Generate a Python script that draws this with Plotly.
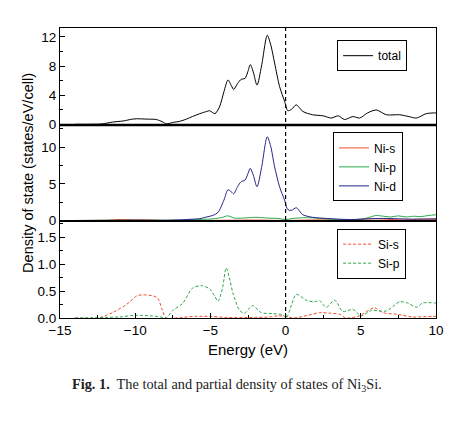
import plotly.graph_objects as go
from plotly.subplots import make_subplots

# ---- data ----
E_tot = [-14, -13, -12.2, -11.5, -10.8, -10.2, -9.9, -9.2, -8.6, -8.2, -7.9, -7.5, -7.05, -6.6, -6.2,
         -5.7, -5.25, -5.05, -4.7, -4.4, -4.1, -3.83, -3.6, -3.45, -3.2, -2.95, -2.7, -2.5, -2.35,
         -2.15, -1.9, -1.6, -1.22, -1.0, -0.73, -0.4, -0.07, 0.15, 0.4, 0.71, 1.15, 1.8, 2.5, 3.04,
         3.5, 3.92, 4.47, 4.92, 5.45, 6.03, 6.7, 7.58, 8.2, 8.69, 9.35, 9.9, 10]
total = [0.05, 0.05, 0.1, 0.35, 0.5, 0.75, 0.8, 0.75, 0.7, 0.4, 0.1, 0.3, 0.45, 0.75, 1.1,
         1.5, 1.8, 1.9, 1.5, 2.4, 4.5, 6.1, 5.3, 4.8, 5.6, 6.2, 6.3, 7.3, 8.2,
         7.2, 5.4, 8.0, 12.2, 11.0, 8.4, 5.2, 3.2, 1.9, 2.1, 2.7, 1.8, 1.35, 1.2, 0.9,
         1.2, 0.7, 1.1, 0.9, 1.6, 2.0, 1.35, 1.35, 1.1, 0.9, 1.5, 1.6, 1.6]

E_nid = [-14, -12, -10, -8, -7, -6.2, -5.7, -5.25, -4.85, -4.5, -4.1, -3.83, -3.6, -3.45, -3.2,
         -2.95, -2.7, -2.5, -2.35, -2.15, -1.9, -1.6, -1.22, -1.0, -0.73, -0.4, -0.07, 0.15, 0.4,
         0.71, 1.15, 1.8, 2.7, 3.5, 4.5, 5.5, 6.5, 7.5, 8.5, 10]
ni_d = [0.02, 0.03, 0.05, 0.05, 0.1, 0.2, 0.27, 0.5, 0.7, 1.1, 2.8, 4.2, 3.9, 3.65, 4.6,
        5.3, 5.5, 6.4, 7.1, 6.2, 4.6, 7.2, 11.4, 10.2, 7.3, 4.6, 2.8, 1.5, 1.4,
        1.75, 0.8, 0.45, 0.3, 0.2, 0.15, 0.25, 0.3, 0.25, 0.2, 0.25]

E_nip = [-14, -12, -10, -8, -6, -4.8, -4.2, -3.85, -3.4, -2.8, -2, -1.2, -0.5, 0, 0.5, 1.2, 2,
         3, 4, 5, 5.5, 6, 6.5, 7, 7.5, 8, 8.5, 9, 9.5, 10]
ni_p = [0.02, 0.05, 0.05, 0.05, 0.15, 0.25, 0.45, 0.65, 0.35, 0.35, 0.45, 0.35, 0.3, 0.15, 0.3,
        0.4, 0.35, 0.2, 0.15, 0.2, 0.4, 0.7, 0.6, 0.5, 0.65, 0.5, 0.6, 0.55, 0.7, 0.8]

E_nis = [-14, -12, -11, -10, -9, -8, -6, -4, -2, 0, 2, 4, 6, 7, 8, 9, 10]
ni_s = [0.01, 0.05, 0.15, 0.12, 0.1, 0.02, 0.02, 0.05, 0.08, 0.03, 0.1, 0.1, 0.25, 0.15, 0.1, 0.2, 0.15]

E_sis = [-14, -12.5, -12.2, -11.5, -10.8, -10.4, -9.9, -9.5, -8.8, -8.5, -8.2, -7.95, -7, -6, -5,
         -4, -2, -1, -0.5, 0, 0.5, 1.5, 2.26, 2.9, 3.6, 4.0, 4.9, 5.9, 6.45, 7.36, 8.45, 9.8, 10]
si_s = [0, 0, 0.02, 0.1, 0.21, 0.29, 0.41, 0.43, 0.41, 0.37, 0.15, 0.0, 0.01, 0.03, 0.03,
        0.01, 0.01, 0.02, 0.04, 0.03, 0.0, 0.05, 0.1, 0.09, 0.07, 0.0, 0.04, 0.19, 0.1, 0.07, 0.02, 0.03, 0.03]

E_sip = [-14, -12, -11, -10, -9, -8.3, -7.95, -7.5, -6.85, -6.2, -5.6, -5.05, -4.7, -4.5, -4.2,
         -3.95, -3.7, -3.5, -3.05, -2.73, -2.2, -1.62, -0.86, -0.2, 0.04, 0.4, 0.71, 1.37, 1.9,
         2.26, 2.7, 3.26, 3.81, 4.47, 5.03, 5.7, 6.7, 7.58, 8.1, 8.69, 9.13, 9.9, 10]
si_p = [0, 0.01, 0.02, 0.05, 0.04, 0.02, 0.0, 0.14, 0.27, 0.55, 0.6, 0.54, 0.4, 0.31, 0.55,
        0.93, 0.7, 0.46, 0.14, 0.09, 0.23, 0.1, 0.08, 0.06, 0.0, 0.25, 0.44, 0.33, 0.3,
        0.32, 0.2, 0.33, 0.12, 0.16, 0.04, 0.14, 0.13, 0.3, 0.28, 0.2, 0.28, 0.28, 0.28]

x_ticks = [-15, -10, -5, 0, 5, 10]

FONT = "Liberation Sans, Arial, sans-serif"
RED = "#f2502a"
GREEN = "#2aa84a"
NAVY = "#25258a"

fig = make_subplots(rows=3, cols=1, shared_xaxes=True, vertical_spacing=0,
                    row_heights=[97, 96, 97])

def line(x, y, name, color, row, legend, dash="solid"):
    fig.add_trace(go.Scatter(x=x, y=y, name=name, mode="lines",
                             line=dict(color=color, width=1, dash=dash, shape="spline", smoothing=0.8),
                             legend=legend), row=row, col=1)

line(E_tot, total, "total", "black", 1, "legend")
line(E_nis, ni_s, "Ni-s", RED, 2, "legend2")
line(E_nip, ni_p, "Ni-p", GREEN, 2, "legend2")
line(E_nid, ni_d, "Ni-d", NAVY, 2, "legend2")
line(E_sis, si_s, "Si-s", RED, 3, "legend3", dash="3px,2px")
line(E_sip, si_p, "Si-p", GREEN, 3, "legend3", dash="3px,2px")

axis_common = dict(showline=True, linecolor="black", linewidth=1, mirror=True,
                   showgrid=False, zeroline=False, ticks="inside", ticklen=5,
                   tickcolor="black", tickfont=dict(family=FONT, size=13.5, color="black"))

for r in (1, 2, 3):
    fig.update_xaxes(range=[-15, 10], tickvals=x_ticks, row=r, col=1,
                     minor=dict(ticks="inside", ticklen=3, dtick=2.5, tickcolor="black"),
                     **axis_common)
fig.update_xaxes(showticklabels=False, ticks="", minor=dict(ticks=""), row=1, col=1)
fig.update_xaxes(showticklabels=False, ticks="", minor=dict(ticks=""), row=2, col=1)
fig.update_xaxes(title=dict(text="Energy (eV)", font=dict(family=FONT, size=15, color="black"),
                            standoff=7), row=3, col=1)

fig.update_yaxes(range=[-0.05, 13.2], tickvals=[0, 4, 8, 12],
                 minor=dict(ticks="inside", ticklen=3, tickvals=[2, 6, 10], tickcolor="black"),
                 row=1, col=1, **axis_common)
fig.update_yaxes(range=[-0.05, 13.0], tickvals=[0, 5, 10],
                 minor=dict(ticks="inside", ticklen=3, tickvals=[2.5, 7.5, 12.5], tickcolor="black"),
                 row=2, col=1, **axis_common)
fig.update_yaxes(range=[0, 1.8], tickvals=[0, 0.5, 1.0, 1.5], tickformat=".1f",
                 minor=dict(ticks="inside", ticklen=3, tickvals=[0.25, 0.75, 1.25, 1.75], tickcolor="black"),
                 row=3, col=1, **axis_common)

# Fermi level
fig.add_shape(type="line", xref="x3", yref="paper", x0=0, x1=0, y0=0, y1=1,
              line=dict(color="black", width=1.2, dash="4px,3px"))
# thick separator between top and middle panels
fig.add_shape(type="line", xref="paper", yref="paper", x0=0, x1=1, y0=193/290, y1=193/290,
              line=dict(color="black", width=2.5))

leg = dict(bgcolor="white", bordercolor="black", borderwidth=1,
           font=dict(family=FONT, size=12, color="black"),
           xanchor="left", yanchor="top", itemwidth=30, tracegroupgap=0)
fig.update_layout(
    legend=dict(x=0.737, y=0.958, **leg),
    legend2=dict(x=0.726, y=0.64, **leg),
    legend3=dict(x=0.737, y=0.308, **leg),
)

fig.add_annotation(text="Density of state (states/eV/cell)", xref="paper", yref="paper",
                   x=-0.112, y=0.5, textangle=-90, showarrow=False,
                   font=dict(family=FONT, size=14.5, color="black"))
fig.add_annotation(text="<b>Fig. 1.</b>  The total and partial density of states of Ni<sub>3</sub>Si.",
                   xref="paper", yref="paper", x=0.445, y=-0.268, showarrow=False,
                   font=dict(family="Liberation Serif, Times New Roman, serif", size=14.3, color="#222"))

fig.update_layout(width=462, height=422, margin=dict(l=60, r=26, t=28, b=104),
                  paper_bgcolor="white", plot_bgcolor="white", showlegend=True)

fig.write_html("out.html", config={"displayModeBar": False},
               post_script="document.body.style.margin='0';document.body.style.padding='0';")
